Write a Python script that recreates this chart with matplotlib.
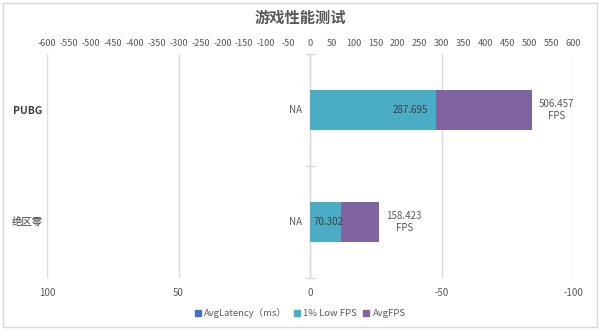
import matplotlib
matplotlib.use("Agg")
import matplotlib.pyplot as plt
from matplotlib.patches import Rectangle
from matplotlib.lines import Line2D

plt.rcParams['font.family'] = ['Noto Sans CJK SC', 'DejaVu Sans']

categories = ["PUBG", "绝区零"]
avg_latency = [None, None]          # NA
low1_fps = [287.695, 70.302]
avg_fps = [506.457, 158.423]
fps_ticks = list(range(-600, 601, 50))
lat_ticks = [100, 50, 0, -50, -100]
title = "游戏性能测试"
series_names = ["AvgLatency（ms）", "1% Low FPS", "AvgFPS"]
colors = ["#4472C4", "#4BACC6", "#8064A2"]

TXT = "#595959"
GRID = "#D9D9D9"

fig = plt.figure(figsize=(6, 3.3), dpi=100)
W, H = 600, 330
ax = fig.add_axes([47 / W, 1 - 278 / H, (573 - 47) / W, (278 - 54) / H])
ax2 = ax.twiny()

ypos = list(range(len(categories)))
ax.set_ylim(len(categories) - 0.5, -0.5)

# latency axis (bottom)
ax.set_xlim(100, -100)
ax.set_xticks(lat_ticks)
ax.set_xticklabels([str(t) for t in lat_ticks], color=TXT, fontsize=7)
ax.tick_params(axis='x', length=0, pad=7)
ax.grid(axis='x', color=GRID, linewidth=1)
ax.set_axisbelow(True)
ax.set_yticks(ypos)
ax.set_yticklabels(categories, color="#404040", fontsize=7.5)
ax.tick_params(axis='y', length=0, pad=3)
ax.get_yticklabels()[0].set_fontweight('bold')
for s in ax.spines.values():
    s.set_visible(False)

# category axis line at zero with separator ticks
ax.axvline(0, color=GRID, linewidth=1, zorder=1)
bounds = [i - 0.5 for i in range(len(categories) + 1)]
ax.plot([0] * len(bounds), bounds, linestyle='none', marker='_', markersize=7,
        color=GRID, markeredgewidth=1, clip_on=False, zorder=1)

# latency labels (NA)
for y, v in zip(ypos, avg_latency):
    val = 0 if v is None else v
    txt = "NA" if v is None else f"{v}"
    ax.annotate(txt, (val, y), xytext=(-8, 0), textcoords='offset pixels',
                ha='right', va='center', fontsize=7, color=TXT)

# FPS axis (top)
ax2.set_xlim(-600, 600)
ax2.set_xticks(fps_ticks)
ax2.set_xticklabels([str(t) for t in fps_ticks], color=TXT, fontsize=6.6)
ax2.tick_params(axis='x', length=0, pad=4)
for s in ax2.spines.values():
    s.set_visible(False)

bh = 0.36
ax2.barh(ypos, avg_fps, height=bh, color=colors[2], zorder=2)
ax2.barh(ypos, low1_fps, height=bh, color=colors[1], zorder=3)

low_offsets = [-8, 3]
for y, v, off in zip(ypos, low1_fps, low_offsets):
    ax2.annotate(f"{v}", (v, y), xytext=(off, 0), textcoords='offset pixels',
                 ha='right', va='center', fontsize=7, color="#404040", zorder=5)
for y, v in zip(ypos, avg_fps):
    ax2.annotate(f"{v}\nFPS", (v, y), xytext=(7, 0), textcoords='offset pixels',
                 ha='left', va='center', multialignment='center', fontsize=7,
                 color=TXT, linespacing=1.2)

fig.text(0.5, 1 - 18 / H, title, ha='center', va='center', fontsize=11,
         fontweight='bold', color=TXT)

handles = [Line2D([], [], linestyle='none', marker='s', markersize=5,
                  markerfacecolor=c, markeredgecolor=c) for c in colors]
fig.legend(handles, series_names, loc='center', bbox_to_anchor=(0.5, 1 - 313 / H),
           ncol=3, frameon=False, fontsize=6.8, handlelength=0.8, handletextpad=0.3,
           columnspacing=0.6, labelcolor=TXT)

fig.patches.append(Rectangle((3 / W, 1 - 327 / H), 594 / W, 324 / H,
                             transform=fig.transFigure, fill=False,
                             edgecolor=GRID, linewidth=1))

fig.savefig("out.png", dpi=100)
